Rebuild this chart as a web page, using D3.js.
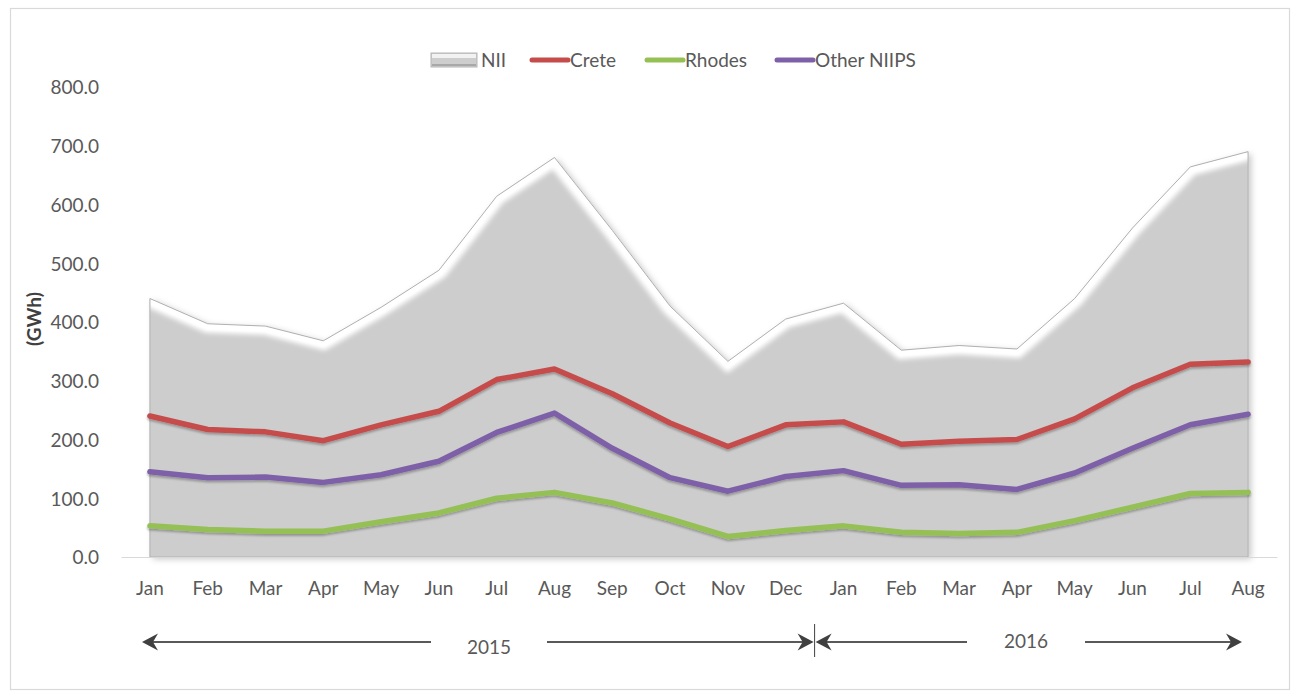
<!DOCTYPE html>
<html>
<head>
<meta charset="utf-8">
<script src="https://cdn.jsdelivr.net/npm/d3@7"></script>
<style>
  html, body { margin: 0; padding: 0; background: #ffffff; }
  svg { display: block; font-family: Lato, "Open Sans", sans-serif; }
</style>
</head>
<body>
<svg id="chart" width="1297" height="693"></svg>
<script>
// Monthly energy, Jan 2015 – Aug 2016
const months = ["Jan","Feb","Mar","Apr","May","Jun","Jul","Aug","Sep","Oct","Nov","Dec",
                "Jan","Feb","Mar","Apr","May","Jun","Jul","Aug"];
const nii    = [440, 397, 393, 368, 425, 488, 614, 680, 556, 427, 333, 405,
                432, 352, 360, 354, 440, 560, 664, 690];
const crete  = [240, 217, 213, 198, 225, 248, 302, 320, 278, 228, 188, 225,
                230, 192, 197, 200, 235, 288, 328, 332];
const rhodes = [53, 47, 44, 44, 60, 75, 100, 110, 92, 65, 35, 45,
                53, 42, 40, 42, 62, 85, 108, 110];
const otherNiips = [145, 135, 136, 127, 140, 163, 212, 245, 185, 135, 112, 137,
                    147, 122, 123, 115, 143, 185, 225, 243];
const yTicks = [0, 100, 200, 300, 400, 500, 600, 700, 800];
const years = ["2015", "2016"];
const yearMonthCounts = [12, 8];

const lineSeries = [
  { name: "Crete", values: crete, color: "#c64c4c" },
  { name: "Rhodes", values: rhodes, color: "#95c054" },
  { name: "Other NIIPS", values: otherNiips, color: "#7e60a8" }
];

const svg = d3.select("#chart");
const textColor = "#595959";
const idx = months.map((_, i) => i);

const x = d3.scaleBand().domain(idx).range([121, 1277]).paddingInner(0).paddingOuter(0);
const cx = i => x(i) + x.bandwidth() / 2;
const y = d3.scaleLinear().domain([0, 800]).range([557, 87]);

// outer frame
svg.append("rect")
  .attr("x", 10.5).attr("y", 8.5).attr("width", 1279).attr("height", 681)
  .attr("fill", "#fff").attr("stroke", "#d9d9d9").attr("stroke-width", 1.2);

const defs = svg.append("defs");
const soft = defs.append("filter").attr("id", "soft").attr("x", "-20%").attr("y", "-20%")
  .attr("width", "140%").attr("height", "140%");
soft.append("feGaussianBlur").attr("stdDeviation", 2.4);
const soft1 = defs.append("filter").attr("id", "soft1").attr("x", "-20%").attr("y", "-20%")
  .attr("width", "140%").attr("height", "140%");
soft1.append("feGaussianBlur").attr("stdDeviation", 1.2);
const soft2 = defs.append("filter").attr("id", "soft2").attr("x", "-20%").attr("y", "-20%")
  .attr("width", "140%").attr("height", "140%");
soft2.append("feGaussianBlur").attr("stdDeviation", 3);
const areaShadow = defs.append("filter").attr("id", "areaShadow").attr("x", "-10%").attr("y", "-10%")
  .attr("width", "120%").attr("height", "120%");
areaShadow.append("feDropShadow").attr("dx", 3).attr("dy", 2).attr("stdDeviation", 3)
  .attr("flood-color", "#000").attr("flood-opacity", 0.22);
const lineShadow = defs.append("filter").attr("id", "lineShadow").attr("x", "-5%").attr("y", "-20%")
  .attr("width", "110%").attr("height", "140%");
lineShadow.append("feDropShadow").attr("dx", 0).attr("dy", 2).attr("stdDeviation", 1.3)
  .attr("flood-color", "#000").attr("flood-opacity", 0.28);

// NII area with a bevelled look
const area = d3.area().x((d, i) => cx(i)).y0(y(0)).y1(d => y(d));
const topLine = d3.line().x((d, i) => cx(i)).y(d => y(d));
const areaPath = area(nii);

defs.append("clipPath").attr("id", "areaClip").append("path").attr("d", areaPath);

svg.append("path").attr("d", areaPath).attr("fill", "#cdcdcd").attr("filter", "url(#areaShadow)");

const bevel = svg.append("g").attr("clip-path", "url(#areaClip)");
bevel.append("path").attr("d", topLine(nii)).attr("fill", "none")
  .attr("stroke", "#ffffff").attr("stroke-width", 18).attr("filter", "url(#soft)");
bevel.append("path").attr("d", topLine(nii)).attr("fill", "none")
  .attr("stroke", "#ffffff").attr("stroke-width", 6).attr("opacity", 0.9)
  .attr("transform", "translate(0,3)").attr("filter", "url(#soft1)");
bevel.append("line")
  .attr("x1", cx(0)).attr("x2", cx(0)).attr("y1", y(900)).attr("y2", y(0))
  .attr("stroke", "#f4f4f4").attr("stroke-width", 7).attr("filter", "url(#soft)");
bevel.append("line")
  .attr("x1", cx(idx.length - 1)).attr("x2", cx(idx.length - 1)).attr("y1", y(900)).attr("y2", y(0))
  .attr("stroke", "#6e6e6e").attr("stroke-width", 10).attr("filter", "url(#soft2)");
bevel.append("line")
  .attr("x1", x(0)).attr("x2", x.range()[1]).attr("y1", y(0)).attr("y2", y(0))
  .attr("stroke", "#9c9c9c").attr("stroke-width", 7).attr("filter", "url(#soft)");

svg.append("path").attr("d", areaPath).attr("fill", "none")
  .attr("stroke", "#b0b0b0").attr("stroke-width", 1);

// x axis line and month labels
const xAxis = d3.axisBottom(x).tickSize(0).tickPadding(0).tickFormat(i => months[i]);
const gx = svg.append("g").attr("transform", `translate(0,${y(0)})`).call(xAxis);
gx.select(".domain").attr("stroke", "#d9d9d9").attr("stroke-width", 1.2);
gx.selectAll("text").attr("y", 38).attr("dy", 0)
  .attr("fill", textColor).attr("font-size", 19).attr("font-family", "Lato, sans-serif");

// y axis labels
const yAxis = d3.axisLeft(y).tickValues(yTicks).tickSize(0).tickPadding(0).tickFormat(d3.format(".1f"));
const gy = svg.append("g").attr("transform", "translate(99,0)").call(yAxis);
gy.select(".domain").remove();
gy.selectAll("text").attr("dy", "0.36em")
  .attr("fill", textColor).attr("font-size", 19).attr("font-family", "Lato, sans-serif");

svg.append("text")
  .attr("transform", `translate(34,${y(405)}) rotate(-90)`)
  .attr("text-anchor", "middle").attr("dy", "0.36em")
  .attr("font-size", 19).attr("font-weight", "bold").attr("fill", "#404040")
  .text("(GWh)");

// series lines
const line = d3.line().x((d, i) => cx(i)).y(d => y(d));
svg.append("g").selectAll("path").data(lineSeries).join("path")
  .attr("d", d => line(d.values))
  .attr("fill", "none").attr("stroke", d => d.color).attr("stroke-width", 5.5)
  .attr("stroke-linejoin", "round").attr("stroke-linecap", "round")
  .attr("filter", "url(#lineShadow)");

// legend
const legend = svg.append("g").attr("font-size", 19).attr("fill", textColor);
const legY = 60;
const niiSw = legend.append("g").attr("transform", `translate(431,${legY - 7})`);
niiSw.append("rect").attr("width", 46).attr("height", 14).attr("fill", "#cdcdcd").attr("stroke", "#b5b5b5");
niiSw.append("rect").attr("x", 1).attr("y", 1).attr("width", 44).attr("height", 4).attr("fill", "#f2f2f2");
niiSw.append("rect").attr("x", 1).attr("y", 11).attr("width", 44).attr("height", 2).attr("fill", "#a8a8a8");
legend.append("text").attr("x", 481).attr("y", legY).attr("dy", "0.36em").text("NII");

const legPos = [532, 647, 777];
lineSeries.forEach((s, i) => {
  const lx = legPos[i];
  legend.append("line").attr("x1", lx).attr("x2", lx + 36).attr("y1", legY).attr("y2", legY)
    .attr("stroke", s.color).attr("stroke-width", 5).attr("stroke-linecap", "round");
  legend.append("text").attr("x", lx + 38).attr("y", legY).attr("dy", "0.36em").text(s.name);
});

// year spans beneath the month axis
const arrowY = 642;
const arrowColor = "#595959";
function head(g, tipX, dir) {
  const L = 16, W = 8.5, back = 5;
  g.append("path")
    .attr("d", `M${tipX},${arrowY} L${tipX - dir * L},${arrowY - W} L${tipX - dir * (L - back)},${arrowY} L${tipX - dir * L},${arrowY + W} Z`)
    .attr("fill", "#404040");
}
const ann = svg.append("g");
let startIdx = 0;
const spans = [];
yearMonthCounts.forEach((n) => {
  const x0 = x(startIdx), x1 = x(startIdx) + n * x.bandwidth();
  spans.push([x0, x1]);
  startIdx += n;
});
const s15 = [spans[0][0] + 21, spans[0][1] - 1];
const s16 = [spans[1][0] + 1, spans[1][1] - 35];
const gap15 = [431, 547], gap16 = [967, 1085];

ann.append("line").attr("x1", s15[0] + 6).attr("x2", gap15[0]).attr("y1", arrowY).attr("y2", arrowY)
  .attr("stroke", arrowColor).attr("stroke-width", 1.8);
ann.append("line").attr("x1", gap15[1]).attr("x2", s15[1] - 6).attr("y1", arrowY).attr("y2", arrowY)
  .attr("stroke", arrowColor).attr("stroke-width", 1.8);
head(ann, s15[0], -1);
head(ann, s15[1], 1);
ann.append("line").attr("x1", s16[0] + 6).attr("x2", gap16[0]).attr("y1", arrowY).attr("y2", arrowY)
  .attr("stroke", arrowColor).attr("stroke-width", 1.8);
ann.append("line").attr("x1", gap16[1]).attr("x2", s16[1] - 6).attr("y1", arrowY).attr("y2", arrowY)
  .attr("stroke", arrowColor).attr("stroke-width", 1.8);
head(ann, s16[0], -1);
head(ann, s16[1], 1);
ann.append("line").attr("x1", spans[0][1]).attr("x2", spans[0][1]).attr("y1", 624).attr("y2", 657)
  .attr("stroke", "#404040").attr("stroke-width", 1);

ann.append("text").attr("x", (gap15[0] + gap15[1]) / 2).attr("y", 647).attr("dy", "0.36em")
  .attr("text-anchor", "middle").attr("font-size", 19).attr("fill", textColor).text(years[0]);
ann.append("text").attr("x", (gap16[0] + gap16[1]) / 2).attr("y", 641).attr("dy", "0.36em")
  .attr("text-anchor", "middle").attr("font-size", 19).attr("fill", textColor).text(years[1]);
</script>
</body>
</html>
